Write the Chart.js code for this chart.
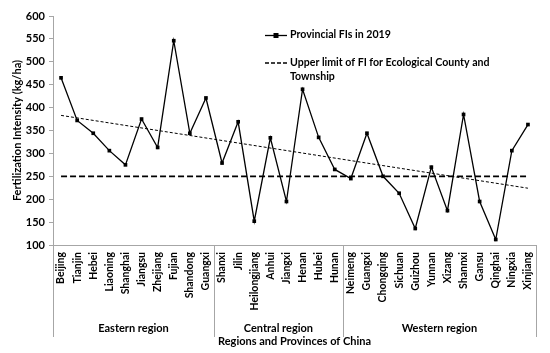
<!DOCTYPE html>
<html>
<head>
<meta charset="utf-8">
<script src="https://cdn.jsdelivr.net/npm/chart.js@4"></script>
<style>
  html, body { margin: 0; padding: 0; background: #fff; }
  #wrap { width: 550px; height: 353px; }
</style>
</head>
<body>
<div id="wrap"><canvas id="fi"></canvas></div>
<script>
// provinces along the x axis, grouped by region
const provinces = ["Beijing", "Tianjin", "Hebei", "Liaoning", "Shanghai", "Jiangsu", "Zhejiang", "Fujian", "Shandong", "Guangxi",
  "Shanxi", "Jilin", "Heilongjiang", "Anhui", "Jiangxi", "Henan", "Hubei", "Hunan",
  "Neimeng", "Guangxi", "Chongqing", "Sichuan", "Guizhou", "Yunnan", "Xizang", "Shannxi", "Gansu", "Qinghai", "Ningxia", "Xinjiang"]
const regions = ["Eastern region", "Central region", "Western region"]
const regionSizes = [10, 8, 12]

// fertilization intensity 2019 (kg/ha)
const fi2019 = [465, 372, 344, 306, 275, 375, 313, 546, 344, 421,
  279, 369, 152, 334, 195, 440, 335, 265,
  245, 344, 250, 213, 136, 270, 175, 385, 195, 112, 306, 363]

// upper limit for ecological county and township
const upperLimit = 250
// trend line end points (first and last province)
const trendStart = 383
const trendEnd = 224

const yTicks = [100, 150, 200, 250, 300, 350, 400, 450, 500, 550, 600]

const FONT = "Lato, 'Liberation Sans', sans-serif"
const AXIS = '#a6a6a6'

let trend = provinces.map((p, i) => i === 0 ? trendStart : (i === provinces.length - 1 ? trendEnd : null))
let limit = provinces.map(() => upperLimit)

// region labels, separators, axis title and the legend
const decorations = {
  id: 'decorations',
  afterDraw(chart) {
    let ctx = chart.ctx
    let area = chart.chartArea
    let step = (area.right - area.left) / provinces.length
    let bottom = area.bottom + 92
    ctx.save()
    ctx.strokeStyle = AXIS
    ctx.lineWidth = 1
    // left axis continues down, separators between regions
    let edges = [0]
    regionSizes.forEach(n => edges.push(edges[edges.length - 1] + n))
    ctx.beginPath()
    edges.forEach(e => {
      let px = Math.round(area.left + e * step) + 0.5
      ctx.moveTo(px, area.bottom)
      ctx.lineTo(px, bottom)
    })
    ctx.stroke()

    ctx.fillStyle = '#000'
    ctx.textAlign = 'center'
    ctx.textBaseline = 'middle'
    ctx.font = "bold 11px " + FONT
    regions.forEach((r, i) => {
      let cx = area.left + (edges[i] + edges[i + 1]) / 2 * step
      ctx.fillText(r, cx, area.bottom + 83)
    })
    ctx.fillText("Regions and Provinces of China", (area.left + area.right) / 2, area.bottom + 96)

    // legend
    let lx = 265, tx = 290
    ctx.textAlign = 'left'
    ctx.font = "bold 10.6px " + FONT
    ctx.strokeStyle = '#000'
    ctx.lineWidth = 1.3
    ctx.beginPath()
    ctx.moveTo(lx, 35.5)
    ctx.lineTo(lx + 22, 35.5)
    ctx.stroke()
    ctx.fillStyle = '#000'
    ctx.fillRect(lx + 8.5, 33, 5, 5)
    ctx.fillText("Provincial FIs in 2019", tx, 35)

    ctx.lineWidth = 1.5
    ctx.setLineDash([4, 2])
    ctx.beginPath()
    ctx.moveTo(lx, 63)
    ctx.lineTo(lx + 22, 63)
    ctx.stroke()
    ctx.setLineDash([])
    ctx.fillText("Upper limit of FI for Ecological County and", tx, 63)
    ctx.fillText("Township", tx, 77)
    ctx.restore()
  }
}

let config = {
  type: 'line',
  data: {
    labels: provinces,
    datasets: [
      {
        label: 'Provincial FIs in 2019',
        data: fi2019,
        borderColor: '#000',
        backgroundColor: '#000',
        borderWidth: 1.3,
        pointStyle: 'rect',
        pointRadius: 2.6,
        pointBorderWidth: 0,
        tension: 0
      },
      {
        label: 'Upper limit of FI for Ecological County and Township',
        data: limit,
        borderColor: '#000',
        borderWidth: 1.8,
        borderDash: [6, 3],
        pointRadius: 0
      },
      {
        label: 'trend',
        data: trend,
        borderColor: '#000',
        borderWidth: 1,
        borderDash: [3, 2],
        pointRadius: 0,
        spanGaps: true
      }
    ]
  },
  options: {
    responsive: true,
    maintainAspectRatio: false,
    animation: false,
    layout: {
      padding: { top: 16, right: 14, left: 0, bottom: 0 }
    },
    plugins: {
      legend: { display: false },
      tooltip: { enabled: false }
    },
    scales: {
      x: {
        type: 'category',
        offset: true,
        grid: { display: false, drawTicks: false },
        border: { color: AXIS, width: 1 },
        ticks: {
          autoSkip: false,
          minRotation: 90,
          maxRotation: 90,
          padding: 7,
          color: '#000',
          font: { family: FONT, size: 10.5, weight: 'bold' }
        },
        afterFit: scale => { scale.height = 108 }
      },
      y: {
        min: 100,
        max: 600,
        afterBuildTicks: scale => { scale.ticks = yTicks.map(v => ({ value: v })) },
        grid: { drawOnChartArea: false, tickLength: 4, color: AXIS },
        border: { color: AXIS, width: 1 },
        ticks: {
          padding: 4,
          color: '#000',
          font: { family: FONT, size: 11, weight: 'bold' }
        },
        title: {
          display: true,
          text: 'Fertilization Intensity (kg/ha)',
          color: '#000',
          padding: { top: 11, bottom: 0 },
          font: { family: FONT, size: 11, weight: 'bold' }
        },
        afterFit: scale => { scale.width = 53 }
      }
    }
  },
  plugins: [decorations]
}

new Chart(document.getElementById('fi'), config)
</script>
</body>
</html>
